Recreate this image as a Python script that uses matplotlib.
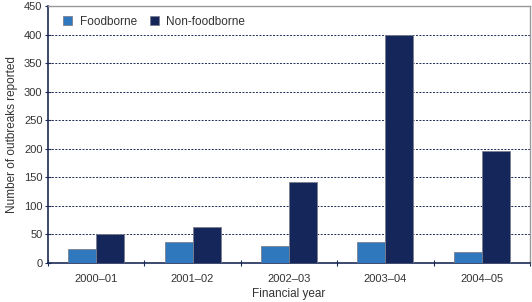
import matplotlib
matplotlib.use("Agg")
import matplotlib.pyplot as plt
import numpy as np

plt.rcParams['font.family'] = ['Liberation Sans', 'DejaVu Sans']

categories = ["2000\u201301", "2001\u201302", "2002\u201303", "2003\u201304", "2004\u201305"]
foodborne = [25, 37, 29, 36, 19]
non_foodborne = [50, 63, 142, 400, 196]
yticks = [0, 50, 100, 150, 200, 250, 300, 350, 400, 450]

c_food = "#2f78bd"
c_non = "#15265a"
navy = "#1b2a55"
txt = "#333333"

fig = plt.figure(figsize=(5.32, 3.02), dpi=100)
ax = fig.add_axes([48/532, 1-263/302, (530-48)/532, (263-6)/302])

x = np.arange(len(categories))
w = 0.29
ax.bar(x - w/2, foodborne, w, color=c_food, edgecolor="#7a8090", linewidth=0.6, label="Foodborne", zorder=3)
ax.bar(x + w/2, non_foodborne, w, color=c_non, edgecolor="#7a8090", linewidth=0.6, label="Non-foodborne", zorder=3)

ax.set_xlim(-0.5, len(categories) - 0.5)
ax.set_ylim(0, 450)
ax.set_yticks(yticks)
ax.set_xticks(x)
ax.set_xticklabels(categories)
ax.set_xticks(np.arange(len(categories) + 1) - 0.5, minor=True)
ax.tick_params(axis='x', which='major', length=0, pad=8, labelsize=8, labelcolor=txt)
ax.tick_params(axis='x', which='minor', length=4, color=navy, direction='inout', width=0.8)
ax.tick_params(axis='y', length=4, direction='inout', color=navy, labelsize=8, labelcolor=txt, width=0.8, pad=2)

for yv in yticks[1:-1]:
    ax.axhline(yv, color=navy, linestyle=(0, (2, 1.5)), linewidth=0.7, zorder=1)

ax.spines['left'].set_color(navy)
ax.spines['left'].set_linewidth(1.2)
ax.spines['bottom'].set_color(navy)
ax.spines['bottom'].set_linewidth(1.2)
ax.spines['top'].set_color("#999999")
ax.spines['right'].set_color("#999999")
ax.spines['top'].set_linewidth(1.0)
ax.spines['right'].set_linewidth(1.0)

ax.set_ylabel("Number of outbreaks reported", fontsize=8.5, color=txt, labelpad=4)
ax.set_xlabel("Financial year", fontsize=8.5, color=txt, labelpad=3)

ax.legend(loc="center left", frameon=False, ncol=2, fontsize=8.5, handlelength=0.8, handleheight=0.8,
          columnspacing=1.1, handletextpad=0.6, borderpad=0, borderaxespad=0,
          bbox_to_anchor=(15/482, 1 - 16/257), labelcolor=txt)

fig.savefig("out.png", dpi=100)
